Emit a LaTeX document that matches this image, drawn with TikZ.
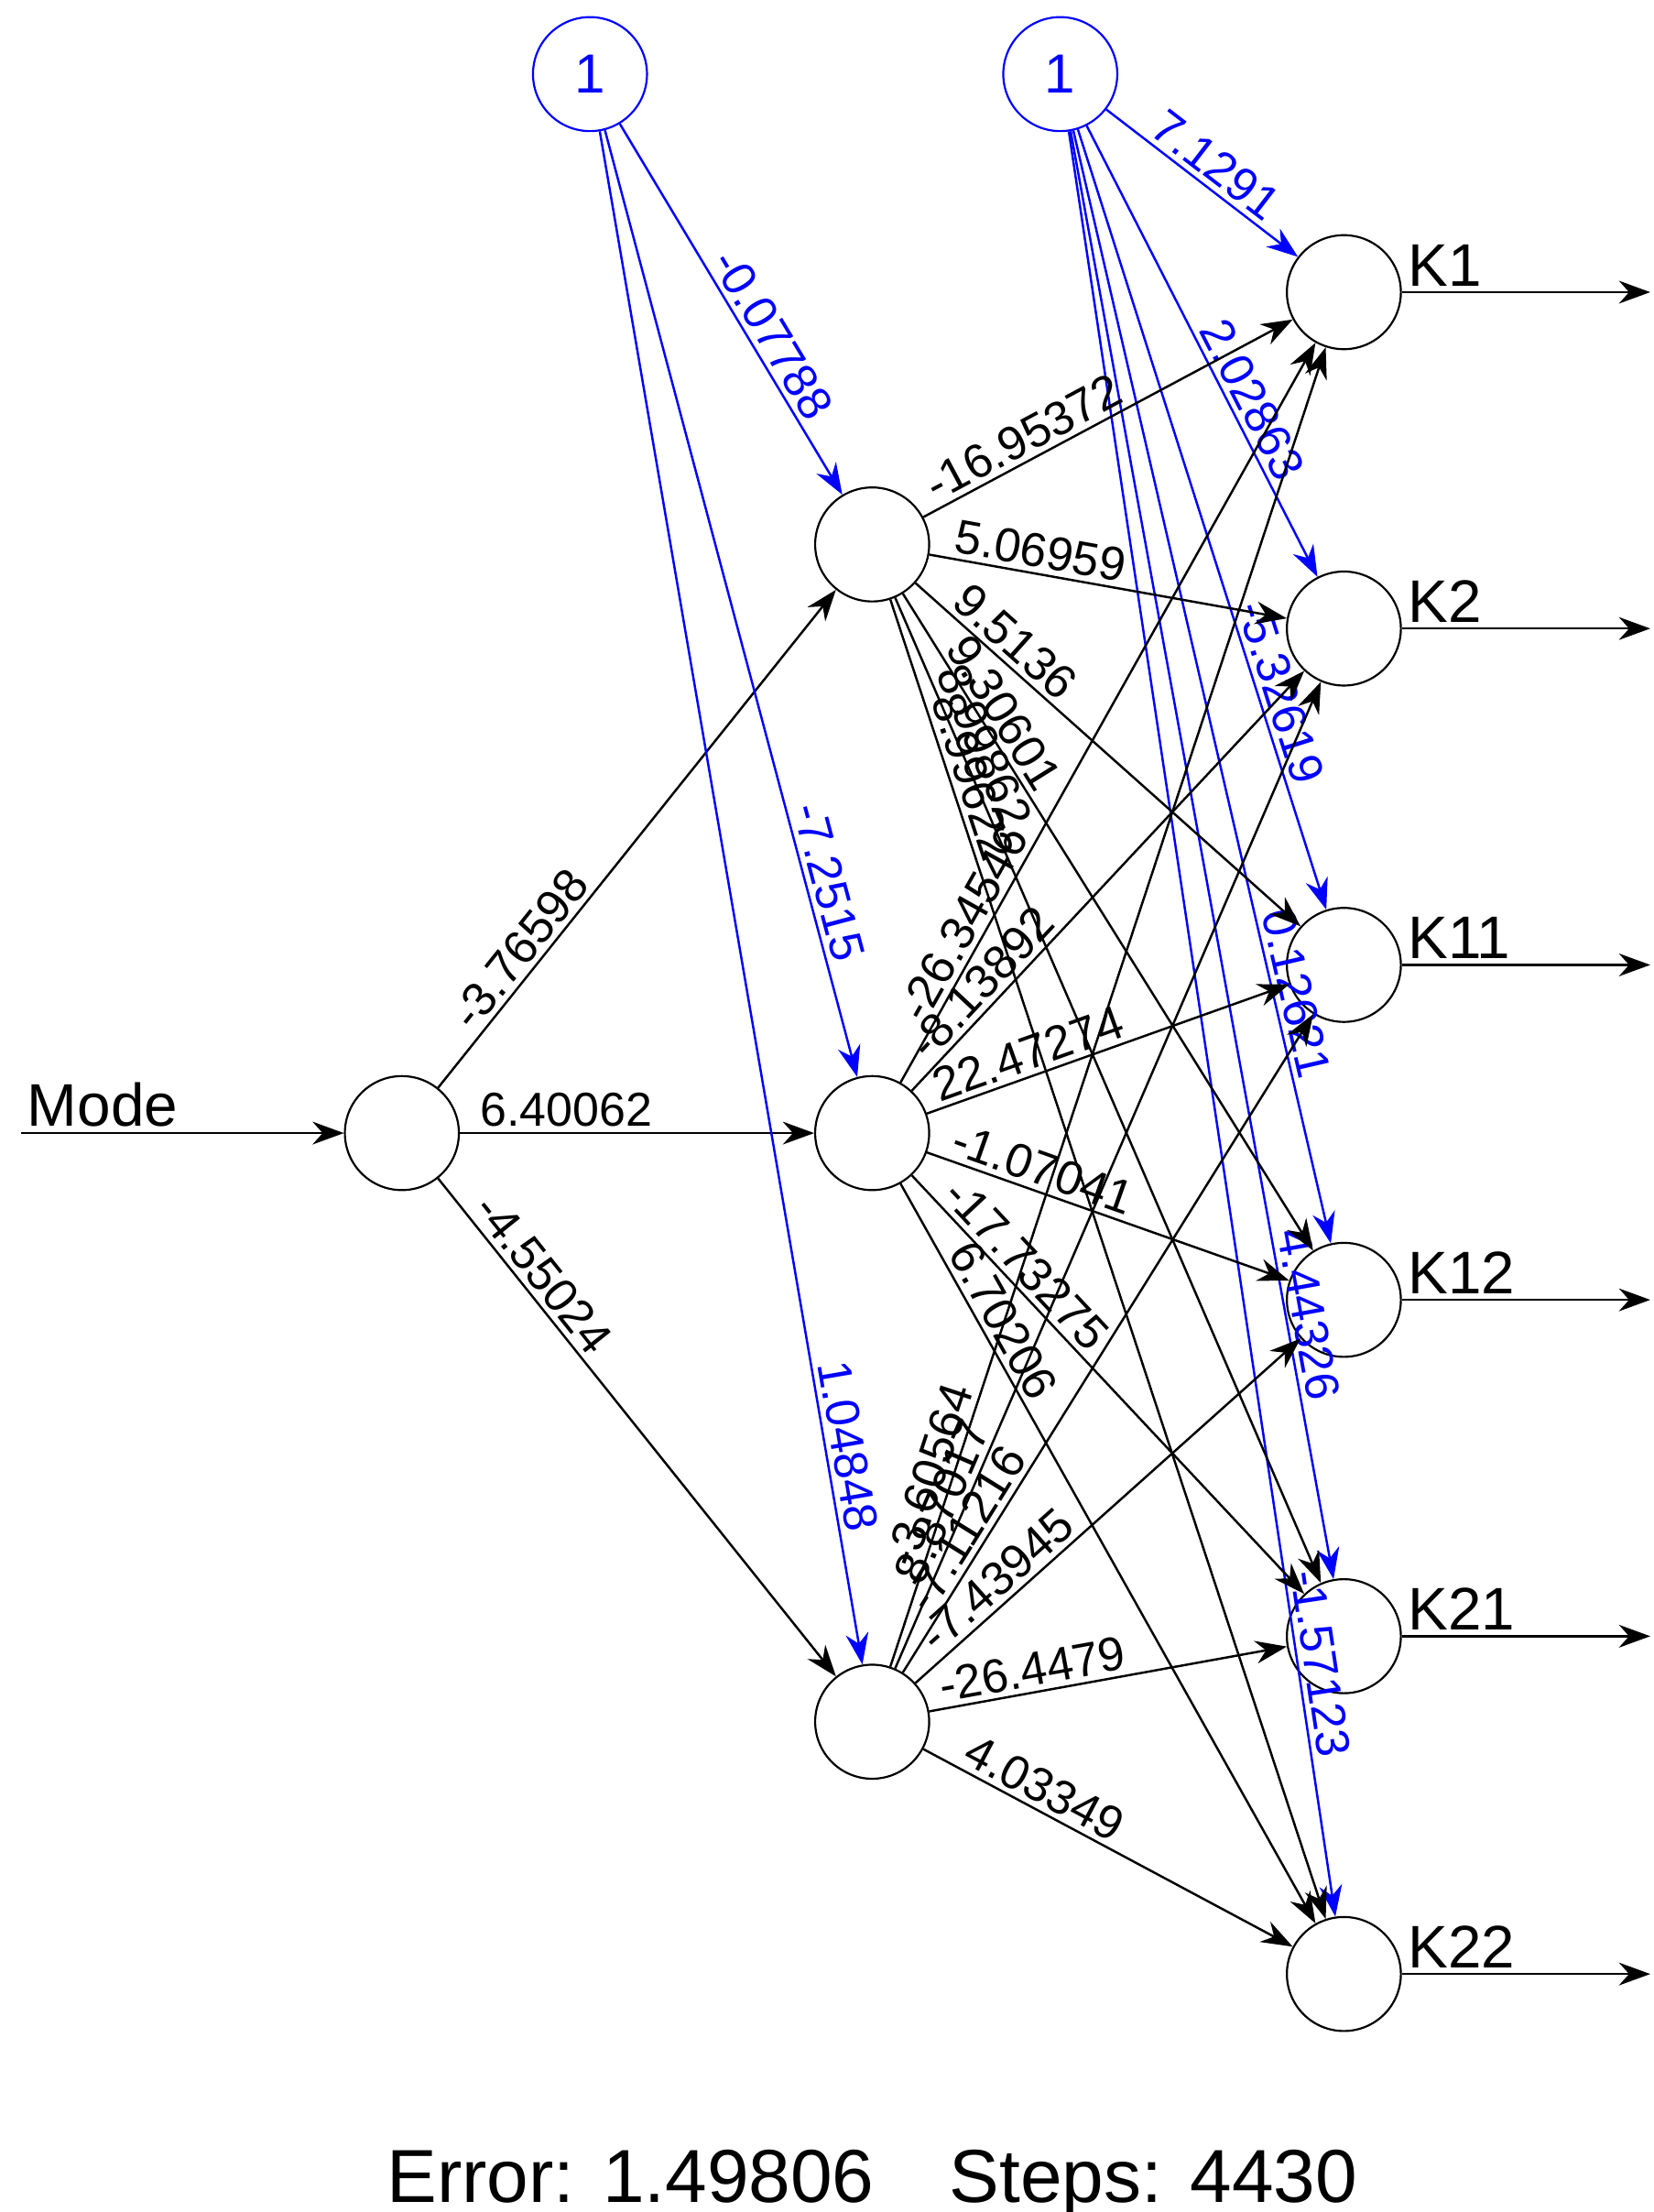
\documentclass[tikz,border=0pt]{standalone}
\usepackage{fontspec}
\setmainfont{Liberation Sans}
\usetikzlibrary{arrows.meta}

\tikzset{
  neuron/.style={circle, draw, minimum size=8mm, inner sep=0pt},
  bias/.style={circle, draw=blue, text=blue, minimum size=8mm, inner sep=0pt, font=\fontsize{11}{11}\selectfont},
  wire/.style={-{Stealth[length=2.2mm,width=1.6mm]}, line width=0.45pt},
  bwire/.style={wire, blue},
  wt/.style={sloped, above, inner sep=1pt, font=\fontsize{9.5}{9.5}\selectfont},
  bwt/.style={wt, text=blue},
  lbl/.style={font=\fontsize{12}{12}\selectfont}
}

\begin{document}
\begin{tikzpicture}[x=0.1mm, y=-0.1mm]
  \useasboundingbox (0,0) rectangle (1160,1552);
  % nodes
  \node[neuron] (I) at (282,795) {};
  \node[neuron] (H1) at (612,382) {};
  \node[neuron] (H2) at (612,795) {};
  \node[neuron] (H3) at (612,1208) {};
  \node[bias] (B1) at (414,52) {1};
  \node[bias] (B2) at (744,52) {1};
  \node[neuron] (K1) at (943,205) {};
  \node[neuron] (K2) at (943,441) {};
  \node[neuron] (K11) at (943,677) {};
  \node[neuron] (K12) at (943,912) {};
  \node[neuron] (K21) at (943,1148) {};
  \node[neuron] (K22) at (943,1385) {};
  \coordinate (M) at (15,795);
  \node[lbl, anchor=south west, inner sep=1pt] at (15,795) {Mode};
  \foreach \k in {K1,K2,K11,K12,K21,K22} {
    \coordinate (\k o) at ([xshift=21.5mm]\k.center);
    \draw[wire] (\k.east) -- (\k o);
    \node[lbl, anchor=south west, inner sep=1pt] at (\k.east) {\k};
  }
  % input layer
  \draw[wire] (M) -- (I);
  \path (I) edge[wire] node[wt, pos=0.25] {-3.76598} (H1)
            edge[wire] node[wt, pos=0.3] {6.40062} (H2)
            edge[wire] node[wt, pos=0.22] {-4.55024} (H3);
  % bias 1
  \path (B1) edge[bwire] node[bwt, pos=0.6] {-0.07788} (H1)
             edge[bwire] node[bwt, pos=0.8] {-7.2515} (H2)
             edge[bwire] node[bwt, pos=0.86] {1.04848} (H3);
  % bias 2
  \path (B2) edge[bwire] node[bwt, pos=0.5] {7.1291} (K1)
             edge[bwire] node[bwt, pos=0.63] {2.02863} (K2)
             edge[bwire] node[bwt, pos=0.73] {-5.32619} (K11)
             edge[bwire] node[bwt, pos=0.78] {0.12621} (K12)
             edge[bwire] node[bwt, pos=0.82] {4.44326} (K21)
             edge[bwire] node[bwt, pos=0.86] {-1.57123} (K22);
  % hidden layer
  \path (H1) edge[wire] node[wt, pos=0.3] {-16.95372} (K1)
             edge[wire] node[wt, pos=0.3] {5.06959} (K2)
             edge[wire] node[wt, pos=0.22] {9.5136} (K11)
             edge[wire] node[wt, pos=0.2] {9.30601} (K12)
             edge[wire] node[wt, pos=0.16] {8.99862} (K21)
             edge[wire] node[wt, pos=0.14] {8.99622} (K22);
  \path (H2) edge[wire] node[wt, pos=0.2] {-26.34546} (K1)
             edge[wire] node[wt, pos=0.22] {-8.13892} (K2)
             edge[wire] node[wt, pos=0.3] {22.47274} (K11)
             edge[wire] node[wt, pos=0.3] {-1.07041} (K12)
             edge[wire] node[wt, pos=0.25] {-17.73275} (K21)
             edge[wire] node[wt, pos=0.2] {6.70206} (K22);
  \path (H3) edge[wire] node[wt, pos=0.14] {-3.60564} (K1)
             edge[wire] node[wt, pos=0.16] {8.87017} (K2)
             edge[wire] node[wt, pos=0.2] {-7.11216} (K11)
             edge[wire] node[wt, pos=0.25] {-7.43945} (K12)
             edge[wire] node[wt, pos=0.3] {-26.4479} (K21)
             edge[wire] node[wt, pos=0.3] {4.03349} (K22);
  \node[font=\fontsize{15}{15}\selectfont] (err) at (612,1532) {Error: 1.49806\quad Steps: 4430};
\end{tikzpicture}
\end{document}
